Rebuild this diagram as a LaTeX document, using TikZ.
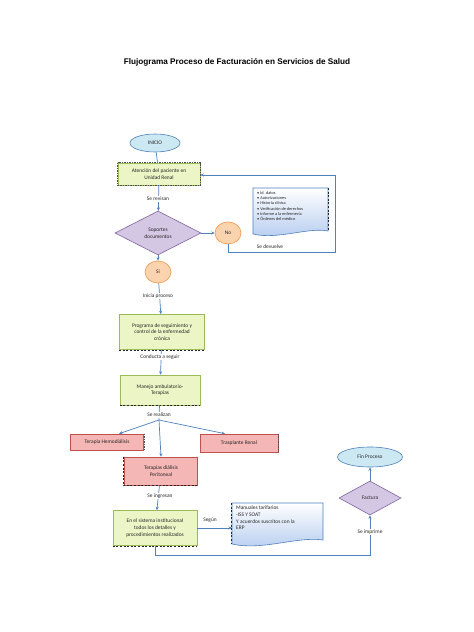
\documentclass[tikz,border=0pt]{standalone}
\usepackage{fontspec}
\setmainfont{Carlito}
\newfontfamily\titlefont{Liberation Sans}
\usetikzlibrary{shapes.geometric,arrows.meta,calc}
\definecolor{cline}{HTML}{4F81BD}
\definecolor{cell}{HTML}{CCE8F2}
\definecolor{cgreen}{HTML}{EBF5C6}
\definecolor{cgreenb}{HTML}{9BBB59}
\definecolor{cviol}{HTML}{D3C7E4}
\definecolor{cviolb}{HTML}{8064A2}
\definecolor{corg}{HTML}{FBD3AE}
\definecolor{corgb}{HTML}{F79646}
\definecolor{cred}{HTML}{F4B7B5}
\definecolor{credb}{HTML}{C0504D}
\definecolor{cdoc}{HTML}{B4CBEF}
\tikzset{
  x=1pt, y=-1pt,
  txt/.style={font=\fontsize{5.4}{6.6}\selectfont, align=center, text=black!85},
  startend/.style={txt, ellipse, draw=cline, fill=cell, line width=0.6pt, inner sep=0pt},
  greenbox/.style={txt, rectangle, draw=cgreenb, fill=cgreen, line width=0.6pt, inner sep=1pt},
  redbox/.style={txt, rectangle, draw=credb, fill=cred, line width=0.6pt, inner sep=1pt},
  decision/.style={txt, diamond, draw=cviolb, fill=cviol, line width=0.6pt, inner sep=0pt},
  answer/.style={txt, ellipse, draw=corgb, fill=corg, line width=0.6pt, inner sep=0pt},
  doctext/.style={txt, align=left, inner sep=2pt, anchor=north west},
  lbl/.style={txt, fill=white, inner sep=1pt},
  conn/.style={draw=cline, line width=0.7pt},
  arr/.style={conn, -{Stealth[length=3.5pt,width=3pt]}},
  shad/.style={black!85, line width=1.1pt, dash pattern=on 2pt off 1.6pt},
  shadthin/.style={black!70, line width=0.5pt, dash pattern=on 1.5pt off 1pt},
}
\begin{document}
\begin{tikzpicture}
\useasboundingbox (0,0) rectangle (474,632);
\fill[white] (0,0) rectangle (474,632);

\node[font=\titlefont\bfseries\fontsize{8.2}{10}\selectfont] (title) at (237,62) {Flujograma Proceso de Facturación en Servicios de Salud};

% nodes
\node[startend, minimum width=50pt, minimum height=18pt] (inicio) at (155,143) {INICIO};
\node[greenbox, minimum width=82pt, minimum height=22pt] (aten) at (159,174) {Atención del paciente en\\Unidad Renal};
\node[decision, minimum width=86pt, minimum height=44pt] (sop) at (158,233) {Soportes\\documentos};
\node[answer, minimum width=26pt, minimum height=22pt] (no) at (228,233) {No};
\node[answer, minimum width=26pt, minimum height=22pt] (si) at (158,272) {Si};
\node[greenbox, minimum width=85pt, minimum height=35pt] (prog) at (162,332) {Programa de seguimiento y\\control de la enfermedad\\crónica};
\node[greenbox, minimum width=80pt, minimum height=30pt] (manejo) at (160,390) {Manejo ambulatorio-\\Terapias};
\node[redbox, minimum width=73pt, minimum height=16pt] (hemo) at (107,442) {Terapia Hemodiálisis};
\node[redbox, minimum width=78pt, minimum height=18pt] (tras) at (239,443) {Trasplante Renal};
\node[redbox, minimum width=73pt, minimum height=28pt] (peri) at (161,471) {Terapias diálisis\\Peritoneal};
\node[greenbox, minimum width=84pt, minimum height=35pt] (sist) at (155,528) {En el sistema institucional\\todos los detalles y\\procedimientos realizados};
\node[decision, minimum width=62pt, minimum height=34pt] (fact) at (370,498) {Factura};
\node[startend, minimum width=65pt, minimum height=20pt] (fin) at (370,457) {Fin Proceso};

% dashed shadow edges
\draw[shadthin] (aten.north west) rectangle (aten.south east);
\draw[shad] ([yshift=-0.6pt]prog.south west) -- ([yshift=-0.6pt]prog.south east);
\draw[shad] ([yshift=-0.6pt]manejo.south west) -- ([yshift=-0.6pt]manejo.south east);
\draw[shad] ([yshift=-0.6pt]sist.south west) -- ([yshift=-0.6pt]sist.south east);
\draw[shad] ([xshift=-0.6pt]peri.north west) -- ([xshift=-0.6pt,yshift=-0.6pt]peri.south west) -- ([yshift=-0.6pt]peri.south east);
\draw[shadthin] (tras.north east) -- (tras.south east);
\draw[shadthin] (hemo.north east) -- (hemo.south east);

% document shapes
\coordinate (d1nw) at (253,188);
\coordinate (d1se) at (328,235);
\path[draw=cline, line width=0.6pt, top color=white, bottom color=cdoc]
  (d1nw) -- (d1nw -| d1se) -- ([yshift=4pt]d1se)
  .. controls ([xshift=-20pt,yshift=8pt]d1se) and ([xshift=25pt,yshift=-5pt]d1nw |- d1se) .. ([yshift=1pt]d1nw |- d1se) -- cycle;
\draw[shad] ([xshift=0.6pt]d1nw -| d1se) -- ([xshift=0.6pt,yshift=4pt]d1se);
\node[doctext, font=\fontsize{4.3}{5.3}\selectfont] (docs) at (255,189) {• Id. datos\\• Autorizaciones\\• Historia clínica\\• Verificación de derechos\\• Informe a la enfermería\\• Órdenes del médico};

\coordinate (d2nw) at (232,503);
\coordinate (d2se) at (323,545);
\path[draw=cline, line width=0.6pt, top color=white, bottom color=cdoc]
  (d2nw) -- (d2nw -| d2se) -- ([yshift=5pt]d2se)
  .. controls ([xshift=-25pt,yshift=9pt]d2se) and ([xshift=30pt,yshift=-6pt]d2nw |- d2se) .. ([yshift=1pt]d2nw |- d2se) -- cycle;
\draw[shad] ([xshift=-0.6pt]d2nw) -- ([xshift=-0.6pt,yshift=1pt]d2nw |- d2se);
\node[doctext] (erp) at (234,504) {Manuales tarifarios\\-ISS Y SOAT\\Y acuerdos suscritos con la\\ERP};

% connectors
\draw[conn] (inicio) -- (aten);
\draw[arr] (aten) -- (sop);
\draw[arr] (sop) -- (no);
\draw[arr] (sop) -- (si);
\coordinate (l1) at (228,252);
\coordinate (l2) at (335,252);
\coordinate (l3) at (335,175);
\draw[arr] (no.south) -- (l1) -- (l2) -- (l3) -- (aten.east |- l3);
\draw[arr] (si) -- (prog);
\draw[arr] (prog) -- (manejo);
\coordinate (br) at (159,420);
\draw[conn] (manejo) -- (br);
\draw[arr] (br) -- ([xshift=12pt]hemo.north);
\draw[arr] (br) -- ([xshift=-14pt]tras.north);
\draw[arr] (br) -- (peri.north);
\draw[arr] (peri) -- (sist);
\draw[arr] (sist.east) -- (d2nw |- sist.east);
\coordinate (b1) at (155,555);
\coordinate (b2) at (370,555);
\draw[arr] (sist.south) -- (b1) -- (b2) -- (fact.south);
\draw[arr] (fact) -- (fin);

% labels
\node[lbl] (t1) at (158,199) {Se revisan};
\node[txt] (t2) at (270,247) {Se devuelve};
\node[lbl] (t3) at (158,296) {Inicia proceso};
\node[lbl] (t4) at (160,357) {Conducta a seguir};
\node[lbl] (t5) at (159,415) {Se realizan};
\node[lbl] (t6) at (160,496) {Se ingresan};
\node[txt] (t7) at (210,520) {Según};
\node[lbl] (t8) at (370,532) {Se imprime};
\end{tikzpicture}
\end{document}
